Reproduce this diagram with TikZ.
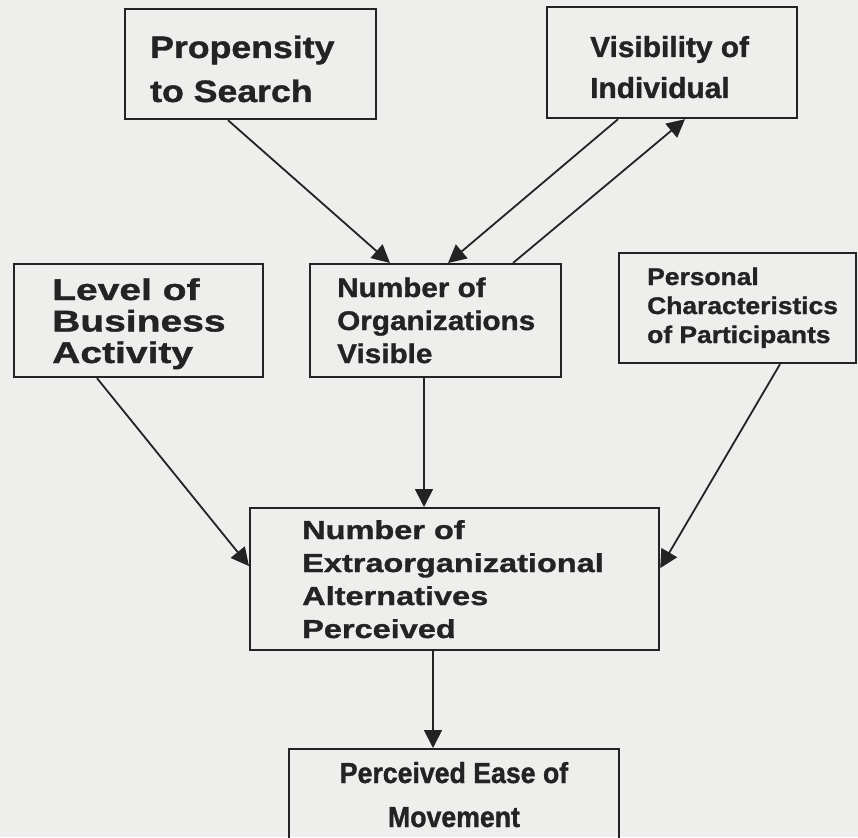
\documentclass[tikz,border=0pt]{standalone}
\usepackage{fontspec}
\setmainfont{Liberation Sans}
\newfontfamily\fprop{Liberation Sans}[FakeStretch=1.15,FakeBold=1.2]
\newfontfamily\fvis{Liberation Sans}[FakeStretch=1.03,FakeBold=1.2]
\newfontfamily\flevel{Liberation Sans}[FakeStretch=1.3,FakeBold=1.2]
\newfontfamily\fnum{Liberation Sans}[FakeStretch=1.1,FakeBold=1.2]
\newfontfamily\fpers{Liberation Sans}[FakeStretch=1.1,FakeBold=1.2]
\newfontfamily\fextra{Liberation Sans}[FakeStretch=1.25,FakeBold=1.2]
\newfontfamily\fperc{Liberation Sans}[FakeStretch=0.92,FakeBold=1.2]
\usetikzlibrary{arrows.meta}
\definecolor{paper}{RGB}{238,238,236}
\definecolor{ink}{RGB}{35,35,35}
\tikzset{
  box/.style={draw=ink, line width=2.2pt, rectangle, inner sep=0pt, anchor=north west},
  lbl/.style={anchor=base west, inner sep=0pt, align=left, text=ink},
  arr/.style={draw=ink, line width=1.8pt, -{Triangle[length=18pt,width=18pt]}},
}
\begin{document}
\begin{tikzpicture}[x=1pt,y=-1pt]
\fill[paper] (0,0) rectangle (858,837);
\useasboundingbox (0,0) rectangle (858,837);
\begin{scope}
\clip (0,0) rectangle (858,837);
% boxes
\node[box, minimum width=251pt, minimum height=110pt] (prop) at (124,8) {};
\node[box, minimum width=250pt, minimum height=111pt] (vis) at (546,6) {};
\node[box, minimum width=249pt, minimum height=113pt] (level) at (13,263) {};
\node[box, minimum width=251pt, minimum height=113pt] (numorg) at (309,263) {};
\node[box, minimum width=237pt, minimum height=110pt] (pers) at (618,252) {};
\node[box, minimum width=409pt, minimum height=142pt] (extra) at (249,507) {};
\node[box, minimum width=330pt, minimum height=110pt] (perc) at (288,748) {};
% texts (anchor base = baseline of last line)
\node[lbl, font={\fprop\bfseries\fontsize{31}{44}\selectfont}] (propt) at (150,102) {Propensity\\to Search};
\node[lbl, font={\fvis\bfseries\fontsize{29}{41}\selectfont}] (vist) at (590,98) {Visibility of\\Individual};
\node[lbl, font={\flevel\bfseries\fontsize{30}{31.5}\selectfont}] (levelt) at (52,363) {Level of\\Business\\Activity};
\node[lbl, font={\fnum\bfseries\fontsize{27}{33}\selectfont}] (numorgt) at (337,363) {Number of\\Organizations\\Visible};
\node[lbl, font={\fpers\bfseries\fontsize{24}{29}\selectfont}] (perst) at (647,343) {Personal\\Characteristics\\of Participants};
\node[lbl, font={\fextra\bfseries\fontsize{26}{33}\selectfont}] (extrat) at (302,638) {Number of\\Extraorganizational\\Alternatives\\Perceived};
\node[anchor=base, inner sep=0pt, align=center, text=ink, font={\fperc\bfseries\fontsize{29}{44}\selectfont}] (perct) at (454,827) {Perceived Ease of\\Movement};
% arrows
\draw[arr] ([xshift=104pt]prop.south west) -- ([xshift=81pt]numorg.north west);
\draw[arr] ([xshift=72pt]vis.south west) -- ([xshift=139pt]numorg.north west);
\draw[arr] ([xshift=204pt]numorg.north west) -- ([xshift=139pt]vis.south west);
\draw[arr] ([xshift=84pt]level.south west) -- ([yshift=13pt]extra.west);
\draw[arr] ([xshift=115pt]numorg.south west) -- ([xshift=175pt]extra.north west);
\draw[arr] ([xshift=162pt]pers.south west) -- ([yshift=11pt]extra.east);
\draw[arr] ([xshift=184pt]extra.south west) -- ([xshift=145pt]perc.north west);
\end{scope}
\end{tikzpicture}
\end{document}
